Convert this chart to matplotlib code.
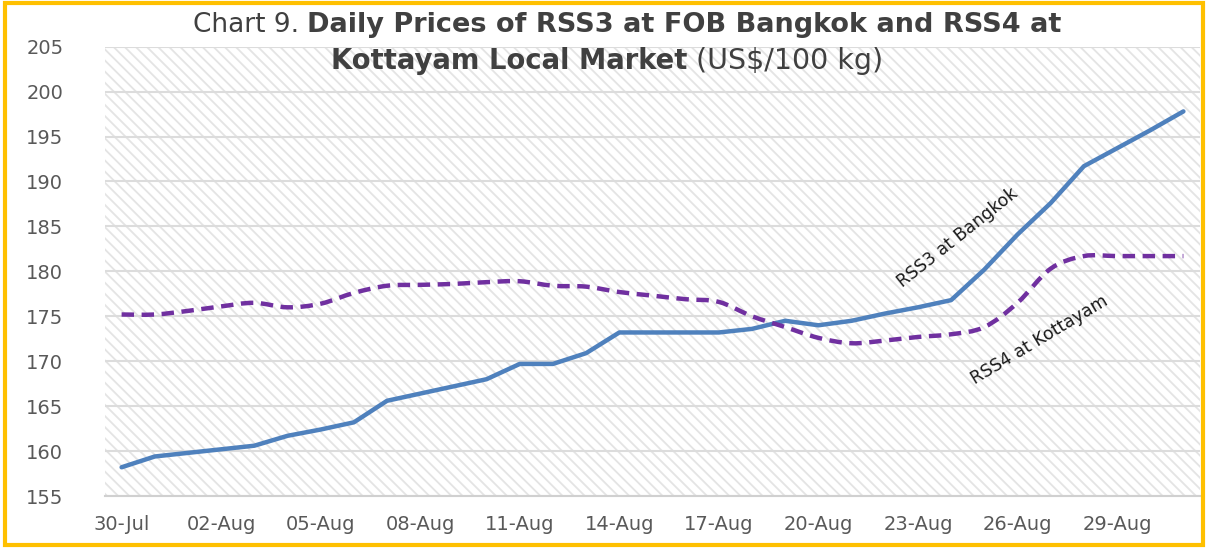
import numpy as np
import pandas as pd
import matplotlib
matplotlib.use('Agg')
import matplotlib.pyplot as plt
import matplotlib.dates as mdates
from matplotlib.path import Path
from matplotlib.patches import PathPatch, Rectangle

# daily prices, 30-Jul to 31-Aug
dates = pd.date_range('2019-07-30', '2019-08-31', freq='D')
rss3_bangkok = [158.2, 159.4, 159.8, 160.2, 160.6, 161.7, 162.4, 163.2, 165.6, 166.4,
                167.2, 168.0, 169.7, 169.7, 170.9, 173.2, 173.2, 173.2, 173.2, 173.6,
                174.5, 174.0, 174.5, 175.3, 176.0, 176.8, 180.2, 184.1, 187.6, 191.7,
                193.7, 195.7, 197.8]
rss4_kottayam = [175.2, 175.2, 175.6, 176.1, 176.5, 176.0, 176.4, 177.6, 178.4, 178.5,
                 178.6, 178.8, 178.9, 178.4, 178.3, 177.7, 177.3, 176.9, 176.6, 175.0,
                 173.8, 172.6, 172.0, 172.3, 172.7, 173.0, 173.8, 176.5, 180.3, 181.7,
                 181.7, 181.7, 181.7]
yticks = list(range(155, 206, 5))

plt.rcParams['font.family'] = ['DejaVu Sans']
plt.rcParams['hatch.linewidth'] = 1.3


def smooth_path(x, y):
    # excel-style smoothed line: cubic bezier through every point
    x = np.asarray(x, float)
    y = np.asarray(y, float)
    n = len(x)
    verts = [(x[0], y[0])]
    codes = [Path.MOVETO]
    for i in range(n - 1):
        i0 = max(i - 1, 0)
        i3 = min(i + 2, n - 1)
        c1 = (x[i] + (x[i + 1] - x[i0]) / 6, y[i] + (y[i + 1] - y[i0]) / 6)
        c2 = (x[i + 1] - (x[i3] - x[i]) / 6, y[i + 1] - (y[i3] - y[i]) / 6)
        verts += [c1, c2, (x[i + 1], y[i + 1])]
        codes += [Path.CURVE4] * 3
    return Path(verts, codes)


fig = plt.figure(figsize=(12.07, 5.52), dpi=100)
ax = fig.add_axes([0.087, 0.1014, 0.9072, 0.814])

xd = mdates.date2num(dates)
ax.add_patch(Rectangle((0, 0), 1, 1, transform=ax.transAxes, facecolor='white',
                       edgecolor='#e4e4e4', lw=0, hatch='\\\\\\', zorder=0.1))

ax.plot(xd, rss3_bangkok, color='#4F81BD', lw=3.2, solid_capstyle='round',
        solid_joinstyle='round', zorder=3)
ax.add_patch(PathPatch(smooth_path(xd, rss4_kottayam), fill=False, edgecolor='#7030A0',
                       lw=3.2, linestyle=(0, (2.8, 1.7)), capstyle='butt', zorder=3))

ax.set_xlim(xd[0] - 0.5, xd[-1] + 0.5)
ax.set_ylim(155, 205)
ax.set_yticks(yticks)
ax.set_xticks(xd[::3])
ax.set_xticklabels([d.strftime('%d-%b') for d in dates[::3]])
ax.grid(axis='y', color='#dcdcdc', lw=1.5)
ax.set_axisbelow(True)
ax.tick_params(length=0, labelsize=14, labelcolor='#595959')
ax.tick_params(axis='y', pad=30)
ax.tick_params(axis='x', pad=14)
for s in ['top', 'right', 'left']:
    ax.spines[s].set_visible(False)
ax.spines['bottom'].set_color('#d0d0d0')
ax.spines['bottom'].set_linewidth(1.5)

ax.text(0.779, 0.574, 'RSS3 at Bangkok', transform=ax.transAxes, rotation=38.5,
        rotation_mode='anchor', ha='center', va='center', fontsize=12.5, color='#1a1a1a')
ax.text(0.853, 0.347, 'RSS4 at Kottayam', transform=ax.transAxes, rotation=31,
        rotation_mode='anchor', ha='center', va='center', fontsize=12.5, color='#1a1a1a')

# title in two lines, normal and bold runs
title_lines = [
    (627, 24, [('Chart 9. ', 'normal', 19), ('Daily Prices of RSS3 at FOB Bangkok and RSS4 at', 'bold', 19.5)]),
    (607, 61, [('Kottayam Local Market', 'bold', 19.8), (' (US$/100 kg)', 'normal', 20.5)]),
]
renderer = fig.canvas.get_renderer()
W, H = 1207, 552
for cx, cy, runs in title_lines:
    objs = []
    for txt, wt, fs in runs:
        t = fig.text(0, 1 - cy / H, txt, fontsize=fs, fontweight=wt,
                     color='#404040', va='baseline', ha='left')
        objs.append(t)
    widths = [t.get_window_extent(renderer).width for t in objs]
    left = cx - sum(widths) / 2
    for t, w in zip(objs, widths):
        t.set_x(left / W)
        t.set_y(1 - (cy + 8) / H)
        left += w

fig.patches.append(Rectangle((0.004, 0.012), 0.993, 0.983, transform=fig.transFigure,
                             fill=False, edgecolor='#FFC000', lw=3))

fig.savefig('out.png', dpi=100)
